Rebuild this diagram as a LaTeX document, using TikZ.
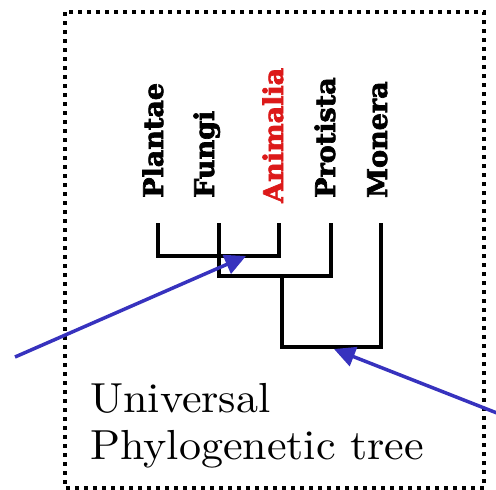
\documentclass[tikz,border=0pt]{standalone}
\usepackage{fontspec}
\newfontfamily\labfont{DejaVu Serif Bold}[FakeBold=2.5]
\newfontfamily\capfont{lmroman10-regular}[Extension=.otf,FakeStretch=1.05]
\usetikzlibrary{arrows.meta}
\definecolor{arrowblue}{RGB}{55,50,190}
\definecolor{animred}{RGB}{220,25,25}
\begin{document}
\begin{tikzpicture}[x=1pt,y=-1pt,
  frame/.style={line width=4pt,dash pattern=on 4pt off 5pt},
  branch/.style={line width=4.5pt,line cap=rect,line join=miter},
  taxon/.style={font=\labfont\fontsize{27}{27}\selectfont,rotate=90,anchor=base west,inner sep=0pt},
  pointer/.style={line width=3.5pt,color=arrowblue,-{Triangle[length=21pt,width=20pt]}},
  caption/.style={font=\capfont\fontsize{42}{47}\selectfont,anchor=base west,inner sep=0pt}]
\useasboundingbox (0,0) rectangle (496,490);
\begin{scope}
\clip (0,0) rectangle (496,490);
\draw[frame] (65,12) rectangle (484,488);

% labels
\node[taxon] (plantae) at (163,198) {Plantae};
\node[taxon] (fungi) at (214,198) {Fungi};
\node[taxon,text=animred] (animalia) at (283,203) {Animalia};
\node[taxon] (protista) at (335,198) {Protista};
\node[taxon] (monera) at (387,198) {Monera};

% tree coordinates
\coordinate (tp) at (158,225);
\coordinate (tf) at (219,225);
\coordinate (ta) at (279,225);
\coordinate (tpr) at (331,225);
\coordinate (tm) at (381,225);
\coordinate (n1) at (219,256);
\coordinate (n2) at (282,276);
\coordinate (root) at (282,347);

\draw[branch] (tp) |- (n1) -| (ta);
\draw[branch] (tf) |- (n2) -| (tpr);
\draw[branch] (n2) |- (root) -| (tm);

% arrows
\coordinate (tail1) at (15,357);
\coordinate (head1) at (246,256);
\coordinate (tail2) at (502,415);
\coordinate (head2) at (334,349);
\draw[pointer] (tail1) -- (head1);
\draw[pointer] (tail2) -- (head2);

\node[caption] (cap1) at (90,412) {Universal};
\node[caption] (cap2) at (90,459) {Phylogenetic tree};
\end{scope}
\end{tikzpicture}
\end{document}
